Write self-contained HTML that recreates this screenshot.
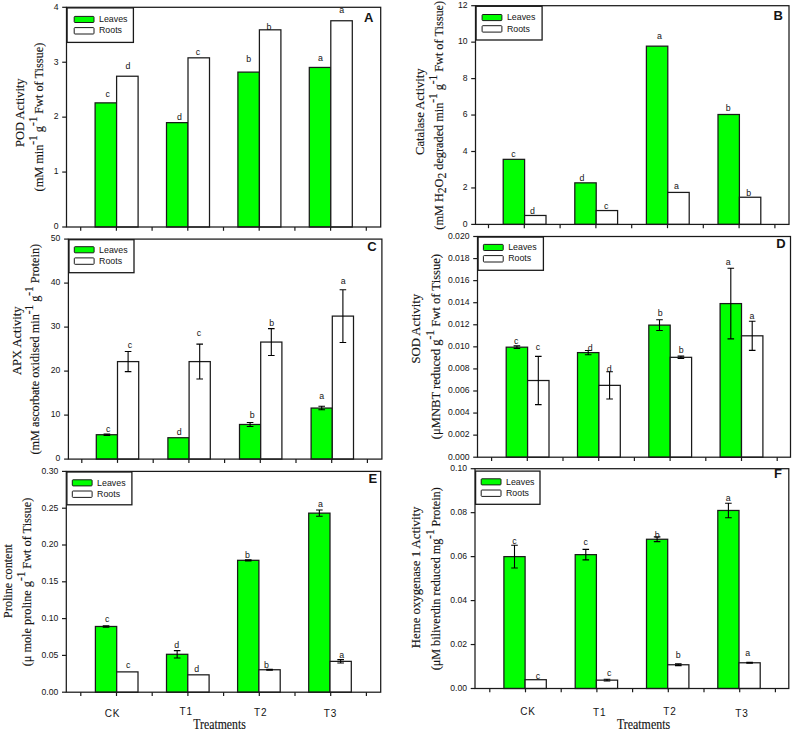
<!DOCTYPE html>
<html><head><meta charset="utf-8"><style>
html,body{margin:0;padding:0;background:#fff;width:792px;height:730px;overflow:hidden}
svg{display:block}
text{fill:#141414}
.tick{font-family:"Liberation Sans",sans-serif;font-size:9.8px;text-anchor:end}
.lab{font-family:"Liberation Sans",sans-serif;font-size:9.8px;text-anchor:middle}
.leg{font-family:"Liberation Sans",sans-serif;font-size:9.8px}
.let{font-family:"Liberation Sans",sans-serif;font-size:13px;font-weight:bold}
.ttl{font-family:"Liberation Serif",serif;font-size:13.2px;text-anchor:middle;stroke:#141414;stroke-width:0.15px}
.tx{font-family:"Liberation Serif",serif;font-size:13.6px;text-anchor:middle;stroke:#141414;stroke-width:0.15px}
.xl{font-family:"Liberation Sans",sans-serif;font-size:10px;text-anchor:middle;letter-spacing:0.9px}
</style></head><body>
<svg width="792" height="730" viewBox="0 0 792 730">
<rect width="792" height="730" fill="#fff"/>
<rect x="95.10" y="102.87" width="21.50" height="124.13" fill="#00ff00" stroke="#1a1a1a" stroke-width="1.25"/>
<rect x="116.60" y="76.23" width="21.50" height="150.77" fill="#fff" stroke="#1a1a1a" stroke-width="1.25"/>
<text transform="translate(107.7,97.4) scale(0.9,1)" class="lab">c</text>
<text transform="translate(127.9,68.6) scale(0.9,1)" class="lab">d</text>
<rect x="166.50" y="122.64" width="21.50" height="104.36" fill="#00ff00" stroke="#1a1a1a" stroke-width="1.25"/>
<rect x="188.00" y="57.83" width="21.50" height="169.17" fill="#fff" stroke="#1a1a1a" stroke-width="1.25"/>
<text transform="translate(179.5,120.0) scale(0.9,1)" class="lab">d</text>
<text transform="translate(198.0,55.1) scale(0.9,1)" class="lab">c</text>
<rect x="237.90" y="72.11" width="21.50" height="154.89" fill="#00ff00" stroke="#1a1a1a" stroke-width="1.25"/>
<rect x="259.40" y="29.82" width="21.50" height="197.18" fill="#fff" stroke="#1a1a1a" stroke-width="1.25"/>
<text transform="translate(248.6,61.6) scale(0.9,1)" class="lab">b</text>
<text transform="translate(269.0,29.7) scale(0.9,1)" class="lab">b</text>
<rect x="309.30" y="67.44" width="21.50" height="159.56" fill="#00ff00" stroke="#1a1a1a" stroke-width="1.25"/>
<rect x="330.80" y="20.76" width="21.50" height="206.24" fill="#fff" stroke="#1a1a1a" stroke-width="1.25"/>
<text transform="translate(320.5,60.5) scale(0.9,1)" class="lab">a</text>
<text transform="translate(341.6,13.4) scale(0.9,1)" class="lab">a</text>
<rect x="66.5" y="7.3" width="314.20" height="219.70" fill="none" stroke="#1a1a1a" stroke-width="1.25"/>
<path d="M62.20 227.00H66.5" stroke="#1a1a1a" stroke-width="1.2"/>
<text transform="translate(58.50,229.30) scale(0.88,1)" class="tick">0</text>
<path d="M62.20 172.07H66.5" stroke="#1a1a1a" stroke-width="1.2"/>
<text transform="translate(58.50,174.38) scale(0.88,1)" class="tick">1</text>
<path d="M62.20 117.15H66.5" stroke="#1a1a1a" stroke-width="1.2"/>
<text transform="translate(58.50,119.45) scale(0.88,1)" class="tick">2</text>
<path d="M62.20 62.23H66.5" stroke="#1a1a1a" stroke-width="1.2"/>
<text transform="translate(58.50,64.53) scale(0.88,1)" class="tick">3</text>
<path d="M62.20 7.30H66.5" stroke="#1a1a1a" stroke-width="1.2"/>
<text transform="translate(58.50,9.60) scale(0.88,1)" class="tick">4</text>
<path d="M80.70 227.0v3.8" stroke="#1a1a1a" stroke-width="1.2"/>
<path d="M116.40 227.0v3.8" stroke="#1a1a1a" stroke-width="1.2"/>
<path d="M152.10 227.0v3.8" stroke="#1a1a1a" stroke-width="1.2"/>
<path d="M187.80 227.0v3.8" stroke="#1a1a1a" stroke-width="1.2"/>
<path d="M223.50 227.0v3.8" stroke="#1a1a1a" stroke-width="1.2"/>
<path d="M259.20 227.0v3.8" stroke="#1a1a1a" stroke-width="1.2"/>
<path d="M294.90 227.0v3.8" stroke="#1a1a1a" stroke-width="1.2"/>
<path d="M330.60 227.0v3.8" stroke="#1a1a1a" stroke-width="1.2"/>
<path d="M366.30 227.0v3.8" stroke="#1a1a1a" stroke-width="1.2"/>
<rect x="67.10" y="7.90" width="66.30" height="34.50" fill="#fff" stroke="#1a1a1a" stroke-width="1.3"/>
<rect x="74.20" y="16.40" width="19.8" height="6.1" rx="0.8" fill="#00ff00" stroke="#1a1a1a" stroke-width="1"/>
<rect x="74.20" y="27.60" width="19.8" height="6.4" rx="0.8" fill="#fff" stroke="#1a1a1a" stroke-width="1"/>
<text x="99.00" y="22.30" class="leg" textLength="28.5" lengthAdjust="spacingAndGlyphs">Leaves</text>
<text x="99.00" y="33.40" class="leg" textLength="23" lengthAdjust="spacingAndGlyphs">Roots</text>
<text x="364.0" y="22.4" class="let">A</text>
<text transform="translate(23.8,112.65) rotate(-90)" class="ttl" textLength="68.5" lengthAdjust="spacingAndGlyphs"><tspan dy="0">POD Activity</tspan></text>
<text transform="translate(43.1,117.05) rotate(-90)" class="ttl" textLength="148.7" lengthAdjust="spacingAndGlyphs"><tspan dy="0">(mM min</tspan><tspan dy="-6.0" font-size="12">-1</tspan><tspan dy="6.0"> g</tspan><tspan dy="-6.0" font-size="12">-1</tspan><tspan dy="6.0"> Fwt of Tissue)</tspan></text>
<rect x="503.20" y="159.34" width="21.40" height="65.06" fill="#00ff00" stroke="#1a1a1a" stroke-width="1.25"/>
<rect x="524.60" y="215.47" width="21.40" height="8.93" fill="#fff" stroke="#1a1a1a" stroke-width="1.25"/>
<text transform="translate(513.5,156.7) scale(0.9,1)" class="lab">c</text>
<text transform="translate(532.4,214.2) scale(0.9,1)" class="lab">d</text>
<rect x="574.80" y="182.85" width="21.40" height="41.55" fill="#00ff00" stroke="#1a1a1a" stroke-width="1.25"/>
<rect x="596.20" y="210.55" width="21.40" height="13.85" fill="#fff" stroke="#1a1a1a" stroke-width="1.25"/>
<text transform="translate(582.0,181.4) scale(0.9,1)" class="lab">d</text>
<text transform="translate(606.3,208.9) scale(0.9,1)" class="lab">c</text>
<rect x="646.40" y="46.16" width="21.40" height="178.24" fill="#00ff00" stroke="#1a1a1a" stroke-width="1.25"/>
<rect x="667.80" y="192.42" width="21.40" height="31.98" fill="#fff" stroke="#1a1a1a" stroke-width="1.25"/>
<text transform="translate(659.4,38.9) scale(0.9,1)" class="lab">a</text>
<text transform="translate(676.5,189.1) scale(0.9,1)" class="lab">a</text>
<rect x="718.00" y="114.50" width="21.40" height="109.90" fill="#00ff00" stroke="#1a1a1a" stroke-width="1.25"/>
<rect x="739.40" y="197.24" width="21.40" height="27.16" fill="#fff" stroke="#1a1a1a" stroke-width="1.25"/>
<text transform="translate(728.2,110.6) scale(0.9,1)" class="lab">b</text>
<text transform="translate(748.8,195.9) scale(0.9,1)" class="lab">b</text>
<rect x="475.5" y="5.7" width="313.50" height="218.70" fill="none" stroke="#1a1a1a" stroke-width="1.25"/>
<path d="M471.20 224.40H475.5" stroke="#1a1a1a" stroke-width="1.2"/>
<text transform="translate(467.50,226.70) scale(0.88,1)" class="tick">0</text>
<path d="M471.20 187.95H475.5" stroke="#1a1a1a" stroke-width="1.2"/>
<text transform="translate(467.50,190.25) scale(0.88,1)" class="tick">2</text>
<path d="M471.20 151.50H475.5" stroke="#1a1a1a" stroke-width="1.2"/>
<text transform="translate(467.50,153.80) scale(0.88,1)" class="tick">4</text>
<path d="M471.20 115.05H475.5" stroke="#1a1a1a" stroke-width="1.2"/>
<text transform="translate(467.50,117.35) scale(0.88,1)" class="tick">6</text>
<path d="M471.20 78.60H475.5" stroke="#1a1a1a" stroke-width="1.2"/>
<text transform="translate(467.50,80.90) scale(0.88,1)" class="tick">8</text>
<path d="M471.20 42.15H475.5" stroke="#1a1a1a" stroke-width="1.2"/>
<text transform="translate(467.50,44.45) scale(0.88,1)" class="tick">10</text>
<path d="M471.20 5.70H475.5" stroke="#1a1a1a" stroke-width="1.2"/>
<text transform="translate(467.50,8.00) scale(0.88,1)" class="tick">12</text>
<path d="M488.50 224.4v3.8" stroke="#1a1a1a" stroke-width="1.2"/>
<path d="M524.30 224.4v3.8" stroke="#1a1a1a" stroke-width="1.2"/>
<path d="M560.10 224.4v3.8" stroke="#1a1a1a" stroke-width="1.2"/>
<path d="M595.90 224.4v3.8" stroke="#1a1a1a" stroke-width="1.2"/>
<path d="M631.70 224.4v3.8" stroke="#1a1a1a" stroke-width="1.2"/>
<path d="M667.50 224.4v3.8" stroke="#1a1a1a" stroke-width="1.2"/>
<path d="M703.30 224.4v3.8" stroke="#1a1a1a" stroke-width="1.2"/>
<path d="M739.10 224.4v3.8" stroke="#1a1a1a" stroke-width="1.2"/>
<path d="M774.90 224.4v3.8" stroke="#1a1a1a" stroke-width="1.2"/>
<rect x="476.10" y="6.30" width="66.00" height="33.70" fill="#fff" stroke="#1a1a1a" stroke-width="1.3"/>
<rect x="482.10" y="14.50" width="19.8" height="6.1" rx="0.8" fill="#00ff00" stroke="#1a1a1a" stroke-width="1"/>
<rect x="482.10" y="25.70" width="19.8" height="6.4" rx="0.8" fill="#fff" stroke="#1a1a1a" stroke-width="1"/>
<text x="506.90" y="20.40" class="leg" textLength="28.5" lengthAdjust="spacingAndGlyphs">Leaves</text>
<text x="506.90" y="31.50" class="leg" textLength="23" lengthAdjust="spacingAndGlyphs">Roots</text>
<text x="773.4" y="20.4" class="let">B</text>
<text transform="translate(424.3,111.65) rotate(-90)" class="ttl" textLength="86.5" lengthAdjust="spacingAndGlyphs"><tspan dy="0">Catalase Activity</tspan></text>
<text transform="translate(442.8,115.30) rotate(-90)" class="ttl" textLength="228.8" lengthAdjust="spacingAndGlyphs"><tspan dy="0">(mM H</tspan><tspan dy="3.5" font-size="12.5">2</tspan><tspan dy="-3.5">O</tspan><tspan dy="3.5" font-size="12.5">2</tspan><tspan dy="-3.5"> degraded min</tspan><tspan dy="-6.0" font-size="12">-1</tspan><tspan dy="6.0"> g</tspan><tspan dy="-6.0" font-size="12">-1</tspan><tspan dy="6.0"> Fwt of Tissue)</tspan></text>
<rect x="96.30" y="434.72" width="21.20" height="24.38" fill="#00ff00" stroke="#1a1a1a" stroke-width="1.25"/>
<rect x="117.50" y="361.60" width="21.20" height="97.50" fill="#fff" stroke="#1a1a1a" stroke-width="1.25"/>
<path d="M106.90 434.06V435.38M103.60 434.06h6.6M103.60 435.38h6.6" stroke="#000" stroke-width="1.1" fill="none"/>
<path d="M128.10 351.56V371.63M124.80 351.56h6.6M124.80 371.63h6.6" stroke="#000" stroke-width="1.1" fill="none"/>
<text transform="translate(108.2,432.2) scale(0.9,1)" class="lab">c</text>
<text transform="translate(129.9,348.4) scale(0.9,1)" class="lab">c</text>
<rect x="167.90" y="437.72" width="21.20" height="21.38" fill="#00ff00" stroke="#1a1a1a" stroke-width="1.25"/>
<rect x="189.10" y="361.60" width="21.20" height="97.50" fill="#fff" stroke="#1a1a1a" stroke-width="1.25"/>
<path d="M199.70 344.17V379.02M196.40 344.17h6.6M196.40 379.02h6.6" stroke="#000" stroke-width="1.1" fill="none"/>
<text transform="translate(179.2,434.7) scale(0.9,1)" class="lab">d</text>
<text transform="translate(198.9,336.3) scale(0.9,1)" class="lab">c</text>
<rect x="239.50" y="424.47" width="21.20" height="34.63" fill="#00ff00" stroke="#1a1a1a" stroke-width="1.25"/>
<rect x="260.70" y="342.06" width="21.20" height="117.04" fill="#fff" stroke="#1a1a1a" stroke-width="1.25"/>
<path d="M250.10 422.49V426.45M246.80 422.49h6.6M246.80 426.45h6.6" stroke="#000" stroke-width="1.1" fill="none"/>
<path d="M271.30 328.64V355.48M268.00 328.64h6.6M268.00 355.48h6.6" stroke="#000" stroke-width="1.1" fill="none"/>
<text transform="translate(252.1,418.3) scale(0.9,1)" class="lab">b</text>
<text transform="translate(271.6,326.0) scale(0.9,1)" class="lab">b</text>
<rect x="311.10" y="408.06" width="21.20" height="51.04" fill="#00ff00" stroke="#1a1a1a" stroke-width="1.25"/>
<rect x="332.30" y="316.10" width="21.20" height="143.00" fill="#fff" stroke="#1a1a1a" stroke-width="1.25"/>
<path d="M321.70 406.30V409.82M318.40 406.30h6.6M318.40 409.82h6.6" stroke="#000" stroke-width="1.1" fill="none"/>
<path d="M342.90 289.70V342.50M339.60 289.70h6.6M339.60 342.50h6.6" stroke="#000" stroke-width="1.1" fill="none"/>
<text transform="translate(321.6,398.8) scale(0.9,1)" class="lab">a</text>
<text transform="translate(343.2,283.5) scale(0.9,1)" class="lab">a</text>
<rect x="68.4" y="239.1" width="313.50" height="220.00" fill="none" stroke="#1a1a1a" stroke-width="1.25"/>
<path d="M64.10 459.10H68.4" stroke="#1a1a1a" stroke-width="1.2"/>
<text transform="translate(60.40,461.40) scale(0.88,1)" class="tick">0</text>
<path d="M64.10 415.10H68.4" stroke="#1a1a1a" stroke-width="1.2"/>
<text transform="translate(60.40,417.40) scale(0.88,1)" class="tick">10</text>
<path d="M64.10 371.10H68.4" stroke="#1a1a1a" stroke-width="1.2"/>
<text transform="translate(60.40,373.40) scale(0.88,1)" class="tick">20</text>
<path d="M64.10 327.10H68.4" stroke="#1a1a1a" stroke-width="1.2"/>
<text transform="translate(60.40,329.40) scale(0.88,1)" class="tick">30</text>
<path d="M64.10 283.10H68.4" stroke="#1a1a1a" stroke-width="1.2"/>
<text transform="translate(60.40,285.40) scale(0.88,1)" class="tick">40</text>
<path d="M64.10 239.10H68.4" stroke="#1a1a1a" stroke-width="1.2"/>
<text transform="translate(60.40,241.40) scale(0.88,1)" class="tick">50</text>
<path d="M81.80 459.1v3.8" stroke="#1a1a1a" stroke-width="1.2"/>
<path d="M117.50 459.1v3.8" stroke="#1a1a1a" stroke-width="1.2"/>
<path d="M153.20 459.1v3.8" stroke="#1a1a1a" stroke-width="1.2"/>
<path d="M188.90 459.1v3.8" stroke="#1a1a1a" stroke-width="1.2"/>
<path d="M224.60 459.1v3.8" stroke="#1a1a1a" stroke-width="1.2"/>
<path d="M260.30 459.1v3.8" stroke="#1a1a1a" stroke-width="1.2"/>
<path d="M296.00 459.1v3.8" stroke="#1a1a1a" stroke-width="1.2"/>
<path d="M331.70 459.1v3.8" stroke="#1a1a1a" stroke-width="1.2"/>
<path d="M367.40 459.1v3.8" stroke="#1a1a1a" stroke-width="1.2"/>
<rect x="69.00" y="239.70" width="65.00" height="33.00" fill="#fff" stroke="#1a1a1a" stroke-width="1.3"/>
<rect x="74.30" y="246.70" width="19.8" height="6.1" rx="0.8" fill="#00ff00" stroke="#1a1a1a" stroke-width="1"/>
<rect x="74.30" y="257.90" width="19.8" height="6.4" rx="0.8" fill="#fff" stroke="#1a1a1a" stroke-width="1"/>
<text x="99.10" y="252.60" class="leg" textLength="28.5" lengthAdjust="spacingAndGlyphs">Leaves</text>
<text x="99.10" y="263.70" class="leg" textLength="23" lengthAdjust="spacingAndGlyphs">Roots</text>
<text x="367.2" y="250.7" class="let">C</text>
<text transform="translate(20.8,340.80) rotate(-90)" class="ttl" textLength="68.4" lengthAdjust="spacingAndGlyphs"><tspan dy="0">APX Activity</tspan></text>
<text transform="translate(39.4,349.25) rotate(-90)" class="ttl" textLength="210.7" lengthAdjust="spacingAndGlyphs"><tspan dy="0">(mM ascorbate oxidised min</tspan><tspan dy="-6.0" font-size="12">-1</tspan><tspan dy="6.0"> g</tspan><tspan dy="-6.0" font-size="12">-1</tspan><tspan dy="6.0"> Protein)</tspan></text>
<rect x="506.20" y="347.18" width="21.40" height="110.02" fill="#00ff00" stroke="#1a1a1a" stroke-width="1.25"/>
<rect x="527.60" y="380.51" width="21.40" height="76.69" fill="#fff" stroke="#1a1a1a" stroke-width="1.25"/>
<path d="M516.90 345.86V348.51M513.60 345.86h6.6M513.60 348.51h6.6" stroke="#000" stroke-width="1.1" fill="none"/>
<path d="M538.30 356.34V404.67M535.00 356.34h6.6M535.00 404.67h6.6" stroke="#000" stroke-width="1.1" fill="none"/>
<text transform="translate(516.3,344.3) scale(0.9,1)" class="lab">c</text>
<text transform="translate(538.0,349.9) scale(0.9,1)" class="lab">c</text>
<rect x="577.50" y="352.59" width="21.40" height="104.61" fill="#00ff00" stroke="#1a1a1a" stroke-width="1.25"/>
<rect x="598.90" y="385.36" width="21.40" height="71.84" fill="#fff" stroke="#1a1a1a" stroke-width="1.25"/>
<path d="M588.20 350.49V354.68M584.90 350.49h6.6M584.90 354.68h6.6" stroke="#000" stroke-width="1.1" fill="none"/>
<path d="M609.60 371.79V398.94M606.30 371.79h6.6M606.30 398.94h6.6" stroke="#000" stroke-width="1.1" fill="none"/>
<text transform="translate(590.2,350.9) scale(0.9,1)" class="lab">d</text>
<text transform="translate(609.1,371.7) scale(0.9,1)" class="lab">d</text>
<rect x="648.80" y="325.11" width="21.40" height="132.09" fill="#00ff00" stroke="#1a1a1a" stroke-width="1.25"/>
<rect x="670.20" y="357.33" width="21.40" height="99.87" fill="#fff" stroke="#1a1a1a" stroke-width="1.25"/>
<path d="M659.50 319.70V330.52M656.20 319.70h6.6M656.20 330.52h6.6" stroke="#000" stroke-width="1.1" fill="none"/>
<path d="M680.90 356.12V358.55M677.60 356.12h6.6M677.60 358.55h6.6" stroke="#000" stroke-width="1.1" fill="none"/>
<text transform="translate(660.1,316.1) scale(0.9,1)" class="lab">b</text>
<text transform="translate(681.1,352.7) scale(0.9,1)" class="lab">b</text>
<rect x="720.10" y="303.59" width="21.40" height="153.61" fill="#00ff00" stroke="#1a1a1a" stroke-width="1.25"/>
<rect x="741.50" y="335.81" width="21.40" height="121.38" fill="#fff" stroke="#1a1a1a" stroke-width="1.25"/>
<path d="M730.80 268.28V338.90M727.50 268.28h6.6M727.50 338.90h6.6" stroke="#000" stroke-width="1.1" fill="none"/>
<path d="M752.20 321.25V350.38M748.90 321.25h6.6M748.90 350.38h6.6" stroke="#000" stroke-width="1.1" fill="none"/>
<text transform="translate(728.3,265.4) scale(0.9,1)" class="lab">a</text>
<text transform="translate(751.9,319.4) scale(0.9,1)" class="lab">a</text>
<rect x="477.5" y="236.5" width="313.00" height="220.70" fill="none" stroke="#1a1a1a" stroke-width="1.25"/>
<path d="M473.20 457.20H477.5" stroke="#1a1a1a" stroke-width="1.2"/>
<text transform="translate(469.50,459.50) scale(0.88,1)" class="tick">0.000</text>
<path d="M473.20 435.13H477.5" stroke="#1a1a1a" stroke-width="1.2"/>
<text transform="translate(469.50,437.43) scale(0.88,1)" class="tick">0.002</text>
<path d="M473.20 413.06H477.5" stroke="#1a1a1a" stroke-width="1.2"/>
<text transform="translate(469.50,415.36) scale(0.88,1)" class="tick">0.004</text>
<path d="M473.20 390.99H477.5" stroke="#1a1a1a" stroke-width="1.2"/>
<text transform="translate(469.50,393.29) scale(0.88,1)" class="tick">0.006</text>
<path d="M473.20 368.92H477.5" stroke="#1a1a1a" stroke-width="1.2"/>
<text transform="translate(469.50,371.22) scale(0.88,1)" class="tick">0.008</text>
<path d="M473.20 346.85H477.5" stroke="#1a1a1a" stroke-width="1.2"/>
<text transform="translate(469.50,349.15) scale(0.88,1)" class="tick">0.010</text>
<path d="M473.20 324.78H477.5" stroke="#1a1a1a" stroke-width="1.2"/>
<text transform="translate(469.50,327.08) scale(0.88,1)" class="tick">0.012</text>
<path d="M473.20 302.71H477.5" stroke="#1a1a1a" stroke-width="1.2"/>
<text transform="translate(469.50,305.01) scale(0.88,1)" class="tick">0.014</text>
<path d="M473.20 280.64H477.5" stroke="#1a1a1a" stroke-width="1.2"/>
<text transform="translate(469.50,282.94) scale(0.88,1)" class="tick">0.016</text>
<path d="M473.20 258.57H477.5" stroke="#1a1a1a" stroke-width="1.2"/>
<text transform="translate(469.50,260.87) scale(0.88,1)" class="tick">0.018</text>
<path d="M473.20 236.50H477.5" stroke="#1a1a1a" stroke-width="1.2"/>
<text transform="translate(469.50,238.80) scale(0.88,1)" class="tick">0.020</text>
<path d="M491.60 457.2v3.8" stroke="#1a1a1a" stroke-width="1.2"/>
<path d="M527.30 457.2v3.8" stroke="#1a1a1a" stroke-width="1.2"/>
<path d="M563.00 457.2v3.8" stroke="#1a1a1a" stroke-width="1.2"/>
<path d="M598.70 457.2v3.8" stroke="#1a1a1a" stroke-width="1.2"/>
<path d="M634.40 457.2v3.8" stroke="#1a1a1a" stroke-width="1.2"/>
<path d="M670.10 457.2v3.8" stroke="#1a1a1a" stroke-width="1.2"/>
<path d="M705.80 457.2v3.8" stroke="#1a1a1a" stroke-width="1.2"/>
<path d="M741.50 457.2v3.8" stroke="#1a1a1a" stroke-width="1.2"/>
<path d="M777.20 457.2v3.8" stroke="#1a1a1a" stroke-width="1.2"/>
<rect x="478.10" y="237.10" width="65.30" height="33.20" fill="#fff" stroke="#1a1a1a" stroke-width="1.3"/>
<rect x="483.40" y="244.40" width="19.8" height="6.1" rx="0.8" fill="#00ff00" stroke="#1a1a1a" stroke-width="1"/>
<rect x="483.40" y="255.60" width="19.8" height="6.4" rx="0.8" fill="#fff" stroke="#1a1a1a" stroke-width="1"/>
<text x="508.20" y="250.30" class="leg" textLength="28.5" lengthAdjust="spacingAndGlyphs">Leaves</text>
<text x="508.20" y="261.40" class="leg" textLength="23" lengthAdjust="spacingAndGlyphs">Roots</text>
<text x="776.3" y="248.2" class="let">D</text>
<text transform="translate(420.4,328.75) rotate(-90)" class="ttl" textLength="69.7" lengthAdjust="spacingAndGlyphs"><tspan dy="0">SOD Activity</tspan></text>
<text transform="translate(440.0,346.60) rotate(-90)" class="ttl" textLength="185.4" lengthAdjust="spacingAndGlyphs"><tspan dy="0">(μMNBT reduced g</tspan><tspan dy="-6.0" font-size="12">-1</tspan><tspan dy="6.0"> Fwt of Tissue)</tspan></text>
<rect x="95.40" y="626.48" width="21.30" height="65.72" fill="#00ff00" stroke="#1a1a1a" stroke-width="1.25"/>
<rect x="116.70" y="671.89" width="21.30" height="20.31" fill="#fff" stroke="#1a1a1a" stroke-width="1.25"/>
<path d="M106.05 625.81V627.14M102.75 625.81h6.6M102.75 627.14h6.6" stroke="#000" stroke-width="1.1" fill="none"/>
<text transform="translate(107.2,621.8) scale(0.9,1)" class="lab">c</text>
<text transform="translate(128.1,667.5) scale(0.9,1)" class="lab">c</text>
<rect x="166.50" y="654.30" width="21.30" height="37.90" fill="#00ff00" stroke="#1a1a1a" stroke-width="1.25"/>
<rect x="187.80" y="674.83" width="21.30" height="17.37" fill="#fff" stroke="#1a1a1a" stroke-width="1.25"/>
<path d="M177.15 650.62V657.98M173.85 650.62h6.6M173.85 657.98h6.6" stroke="#000" stroke-width="1.1" fill="none"/>
<text transform="translate(176.7,648.1) scale(0.9,1)" class="lab">d</text>
<text transform="translate(196.7,671.6) scale(0.9,1)" class="lab">d</text>
<rect x="237.60" y="560.31" width="21.30" height="131.89" fill="#00ff00" stroke="#1a1a1a" stroke-width="1.25"/>
<rect x="258.90" y="669.75" width="21.30" height="22.45" fill="#fff" stroke="#1a1a1a" stroke-width="1.25"/>
<path d="M248.25 559.72V560.90M244.95 559.72h6.6M244.95 560.90h6.6" stroke="#000" stroke-width="1.1" fill="none"/>
<path d="M269.55 669.31V670.19M266.25 669.31h6.6M266.25 670.19h6.6" stroke="#000" stroke-width="1.1" fill="none"/>
<text transform="translate(247.4,557.9) scale(0.9,1)" class="lab">b</text>
<text transform="translate(266.5,668.3) scale(0.9,1)" class="lab">b</text>
<rect x="308.70" y="513.13" width="21.30" height="179.07" fill="#00ff00" stroke="#1a1a1a" stroke-width="1.25"/>
<rect x="330.00" y="661.36" width="21.30" height="30.84" fill="#fff" stroke="#1a1a1a" stroke-width="1.25"/>
<path d="M319.35 510.04V516.22M316.05 510.04h6.6M316.05 516.22h6.6" stroke="#000" stroke-width="1.1" fill="none"/>
<path d="M340.65 659.67V663.05M337.35 659.67h6.6M337.35 663.05h6.6" stroke="#000" stroke-width="1.1" fill="none"/>
<text transform="translate(320.4,507.4) scale(0.9,1)" class="lab">a</text>
<text transform="translate(341.7,657.9) scale(0.9,1)" class="lab">a</text>
<rect x="66.3" y="471.4" width="314.40" height="220.80" fill="none" stroke="#1a1a1a" stroke-width="1.25"/>
<path d="M62.00 692.20H66.3" stroke="#1a1a1a" stroke-width="1.2"/>
<text transform="translate(58.30,694.50) scale(0.88,1)" class="tick">0.00</text>
<path d="M62.00 655.40H66.3" stroke="#1a1a1a" stroke-width="1.2"/>
<text transform="translate(58.30,657.70) scale(0.88,1)" class="tick">0.05</text>
<path d="M62.00 618.60H66.3" stroke="#1a1a1a" stroke-width="1.2"/>
<text transform="translate(58.30,620.90) scale(0.88,1)" class="tick">0.10</text>
<path d="M62.00 581.80H66.3" stroke="#1a1a1a" stroke-width="1.2"/>
<text transform="translate(58.30,584.10) scale(0.88,1)" class="tick">0.15</text>
<path d="M62.00 545.00H66.3" stroke="#1a1a1a" stroke-width="1.2"/>
<text transform="translate(58.30,547.30) scale(0.88,1)" class="tick">0.20</text>
<path d="M62.00 508.20H66.3" stroke="#1a1a1a" stroke-width="1.2"/>
<text transform="translate(58.30,510.50) scale(0.88,1)" class="tick">0.25</text>
<path d="M62.00 471.40H66.3" stroke="#1a1a1a" stroke-width="1.2"/>
<text transform="translate(58.30,473.70) scale(0.88,1)" class="tick">0.30</text>
<path d="M80.80 692.2v3.8" stroke="#1a1a1a" stroke-width="1.2"/>
<path d="M116.50 692.2v3.8" stroke="#1a1a1a" stroke-width="1.2"/>
<path d="M152.20 692.2v3.8" stroke="#1a1a1a" stroke-width="1.2"/>
<path d="M187.90 692.2v3.8" stroke="#1a1a1a" stroke-width="1.2"/>
<path d="M223.60 692.2v3.8" stroke="#1a1a1a" stroke-width="1.2"/>
<path d="M259.30 692.2v3.8" stroke="#1a1a1a" stroke-width="1.2"/>
<path d="M295.00 692.2v3.8" stroke="#1a1a1a" stroke-width="1.2"/>
<path d="M330.70 692.2v3.8" stroke="#1a1a1a" stroke-width="1.2"/>
<path d="M366.40 692.2v3.8" stroke="#1a1a1a" stroke-width="1.2"/>
<rect x="66.90" y="472.00" width="65.00" height="32.80" fill="#fff" stroke="#1a1a1a" stroke-width="1.3"/>
<rect x="72.30" y="479.80" width="19.8" height="6.1" rx="0.8" fill="#00ff00" stroke="#1a1a1a" stroke-width="1"/>
<rect x="72.30" y="491.00" width="19.8" height="6.4" rx="0.8" fill="#fff" stroke="#1a1a1a" stroke-width="1"/>
<text x="97.10" y="485.70" class="leg" textLength="28.5" lengthAdjust="spacingAndGlyphs">Leaves</text>
<text x="97.10" y="496.80" class="leg" textLength="23" lengthAdjust="spacingAndGlyphs">Roots</text>
<text x="368.6" y="482.6" class="let">E</text>
<text transform="translate(11.7,581.00) rotate(-90)" class="ttl" textLength="73.8" lengthAdjust="spacingAndGlyphs"><tspan dy="0">Proline content</tspan></text>
<text transform="translate(31.4,582.00) rotate(-90)" class="ttl" textLength="168.6" lengthAdjust="spacingAndGlyphs"><tspan dy="0">(μ mole proline g</tspan><tspan dy="-6.0" font-size="12">-1</tspan><tspan dy="6.0"> Fwt of Tissue)</tspan></text>
<text x="112.50" y="716.8" class="xl">CK</text>
<text x="186.20" y="714.8" class="xl">T1</text>
<text x="260.70" y="716.2" class="xl">T2</text>
<text x="330.40" y="716.8" class="xl">T3</text>
<text x="219.55" y="728.6999999999999" class="tx" textLength="52.5" lengthAdjust="spacingAndGlyphs">Treatments</text>
<rect x="503.90" y="556.62" width="21.20" height="131.88" fill="#00ff00" stroke="#1a1a1a" stroke-width="1.25"/>
<rect x="525.10" y="679.71" width="21.20" height="8.79" fill="#fff" stroke="#1a1a1a" stroke-width="1.25"/>
<path d="M514.50 545.19V568.05M511.20 545.19h6.6M511.20 568.05h6.6" stroke="#000" stroke-width="1.1" fill="none"/>
<text transform="translate(514.4,544.2) scale(0.9,1)" class="lab">c</text>
<text transform="translate(537.9,678.5) scale(0.9,1)" class="lab">c</text>
<rect x="575.20" y="554.64" width="21.20" height="133.86" fill="#00ff00" stroke="#1a1a1a" stroke-width="1.25"/>
<rect x="596.40" y="680.15" width="21.20" height="8.35" fill="#fff" stroke="#1a1a1a" stroke-width="1.25"/>
<path d="M585.80 549.37V559.92M582.50 549.37h6.6M582.50 559.92h6.6" stroke="#000" stroke-width="1.1" fill="none"/>
<path d="M607.00 679.27V681.03M603.70 679.27h6.6M603.70 681.03h6.6" stroke="#000" stroke-width="1.1" fill="none"/>
<text transform="translate(585.6,545.0) scale(0.9,1)" class="lab">c</text>
<text transform="translate(609.3,676.0) scale(0.9,1)" class="lab">c</text>
<rect x="646.50" y="539.26" width="21.20" height="149.24" fill="#00ff00" stroke="#1a1a1a" stroke-width="1.25"/>
<rect x="667.70" y="664.76" width="21.20" height="23.74" fill="#fff" stroke="#1a1a1a" stroke-width="1.25"/>
<path d="M657.10 536.84V541.67M653.80 536.84h6.6M653.80 541.67h6.6" stroke="#000" stroke-width="1.1" fill="none"/>
<path d="M678.30 663.88V665.64M675.00 663.88h6.6M675.00 665.64h6.6" stroke="#000" stroke-width="1.1" fill="none"/>
<text transform="translate(657.1,537.5) scale(0.9,1)" class="lab">b</text>
<text transform="translate(678.3,658.4) scale(0.9,1)" class="lab">b</text>
<rect x="717.80" y="510.46" width="21.20" height="178.04" fill="#00ff00" stroke="#1a1a1a" stroke-width="1.25"/>
<rect x="739.00" y="662.78" width="21.20" height="25.72" fill="#fff" stroke="#1a1a1a" stroke-width="1.25"/>
<path d="M728.40 503.21V517.72M725.10 503.21h6.6M725.10 517.72h6.6" stroke="#000" stroke-width="1.1" fill="none"/>
<path d="M749.60 662.34V663.22M746.30 662.34h6.6M746.30 663.22h6.6" stroke="#000" stroke-width="1.1" fill="none"/>
<text transform="translate(728.3,501.0) scale(0.9,1)" class="lab">a</text>
<text transform="translate(747.6,656.3) scale(0.9,1)" class="lab">a</text>
<rect x="475.0" y="468.7" width="313.80" height="219.80" fill="none" stroke="#1a1a1a" stroke-width="1.25"/>
<path d="M470.70 688.50H475.0" stroke="#1a1a1a" stroke-width="1.2"/>
<text transform="translate(467.00,690.80) scale(0.88,1)" class="tick">0.00</text>
<path d="M470.70 644.54H475.0" stroke="#1a1a1a" stroke-width="1.2"/>
<text transform="translate(467.00,646.84) scale(0.88,1)" class="tick">0.02</text>
<path d="M470.70 600.58H475.0" stroke="#1a1a1a" stroke-width="1.2"/>
<text transform="translate(467.00,602.88) scale(0.88,1)" class="tick">0.04</text>
<path d="M470.70 556.62H475.0" stroke="#1a1a1a" stroke-width="1.2"/>
<text transform="translate(467.00,558.92) scale(0.88,1)" class="tick">0.06</text>
<path d="M470.70 512.66H475.0" stroke="#1a1a1a" stroke-width="1.2"/>
<text transform="translate(467.00,514.96) scale(0.88,1)" class="tick">0.08</text>
<path d="M470.70 468.70H475.0" stroke="#1a1a1a" stroke-width="1.2"/>
<text transform="translate(467.00,471.00) scale(0.88,1)" class="tick">0.10</text>
<path d="M489.80 688.5v3.8" stroke="#1a1a1a" stroke-width="1.2"/>
<path d="M525.50 688.5v3.8" stroke="#1a1a1a" stroke-width="1.2"/>
<path d="M561.20 688.5v3.8" stroke="#1a1a1a" stroke-width="1.2"/>
<path d="M596.90 688.5v3.8" stroke="#1a1a1a" stroke-width="1.2"/>
<path d="M632.60 688.5v3.8" stroke="#1a1a1a" stroke-width="1.2"/>
<path d="M668.30 688.5v3.8" stroke="#1a1a1a" stroke-width="1.2"/>
<path d="M704.00 688.5v3.8" stroke="#1a1a1a" stroke-width="1.2"/>
<path d="M739.70 688.5v3.8" stroke="#1a1a1a" stroke-width="1.2"/>
<path d="M775.40 688.5v3.8" stroke="#1a1a1a" stroke-width="1.2"/>
<rect x="475.60" y="471.10" width="64.40" height="33.20" fill="#fff" stroke="#1a1a1a" stroke-width="1.3"/>
<rect x="481.20" y="478.80" width="19.8" height="6.1" rx="0.8" fill="#00ff00" stroke="#1a1a1a" stroke-width="1"/>
<rect x="481.20" y="490.00" width="19.8" height="6.4" rx="0.8" fill="#fff" stroke="#1a1a1a" stroke-width="1"/>
<text x="506.00" y="484.70" class="leg" textLength="28.5" lengthAdjust="spacingAndGlyphs">Leaves</text>
<text x="506.00" y="495.80" class="leg" textLength="23" lengthAdjust="spacingAndGlyphs">Roots</text>
<text x="774.0" y="478.3" class="let">F</text>
<text transform="translate(420.4,577.35) rotate(-90)" class="ttl" textLength="141.7" lengthAdjust="spacingAndGlyphs"><tspan dy="0">Heme oxygenase 1 Activity</tspan></text>
<text transform="translate(440.0,578.80) rotate(-90)" class="ttl" textLength="183.0" lengthAdjust="spacingAndGlyphs"><tspan dy="0">(μM biliverdin reduced mg</tspan><tspan dy="-6.0" font-size="12">-1</tspan><tspan dy="6.0"> Protein)</tspan></text>
<text x="528.10" y="715.2" class="xl">CK</text>
<text x="599.70" y="716.2" class="xl">T1</text>
<text x="670.00" y="714.6" class="xl">T2</text>
<text x="742.00" y="716.5" class="xl">T3</text>
<text x="643.50" y="728.6999999999999" class="tx" textLength="53.2" lengthAdjust="spacingAndGlyphs">Treatments</text>
</svg></body></html>
